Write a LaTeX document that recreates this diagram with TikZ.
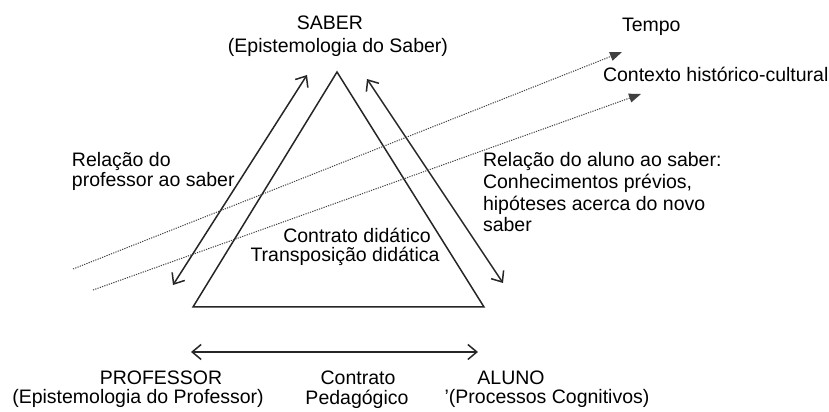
\documentclass[tikz,border=0pt]{standalone}
\usepackage{fontspec}
\setmainfont{Liberation Sans}
\usetikzlibrary{arrows.meta}
\tikzset{
  lbl/.style={inner sep=0pt, outer sep=0pt, font=\fontsize{9.75bp}{10bp}\selectfont, text=black},
  side/.style={line width=0.75bp, draw=black!85},
  rel/.style={side, {Straight Barb[length=4.5bp,width=7.5bp]}-{Straight Barb[length=4.5bp,width=7.5bp]}},
  flow/.style={line width=0.5bp, draw=black!75, dash pattern=on 0.6bp off 0.6bp, -{Triangle[length=6bp,width=4.5bp]}},
}
\begin{document}
\begin{tikzpicture}[x=0.5bp, y=-0.5bp]
\useasboundingbox (0,0) rectangle (829,412);
% triangle corners
\coordinate (top) at (337,72);
\coordinate (bl) at (193,307);
\coordinate (br) at (484,307);
\draw[side, line join=miter] (top) -- (bl) -- (br) -- cycle;
% relation arrows
\coordinate (lpA) at (307,75);
\coordinate (lpB) at (173,285);
\draw[rel] (lpB) -- (lpA);
\coordinate (raA) at (367,79);
\coordinate (raB) at (503,283);
\draw[rel] (raA) -- (raB);
\coordinate (hpA) at (191,352);
\coordinate (hpB) at (478,352);
\draw[rel] (hpA) -- (hpB);
% time lines
\coordinate (t1s) at (73,269);
\coordinate (t1e) at (622,52);
\draw[flow] (t1s) -- (t1e);
\coordinate (t2s) at (93,290);
\coordinate (t2e) at (641,94);
\draw[flow] (t2s) -- (t2e);
% labels
\node[lbl, anchor=base] (saber) at (330,30) {SABER};
\node[lbl, anchor=base] (saberdesc) at (338,53) {(Epistemologia do Saber)};
\node[lbl, anchor=base west] (tempo) at (622,32) {Tempo};
\node[lbl, anchor=base west] (contexto) at (603,82) {Contexto histórico-cultural};
\node[lbl, anchor=base west] (rp1) at (72,167) {Relação do};
\node[lbl, anchor=base west] (rp2) at (72,187) {professor ao saber};
\node[lbl, anchor=base west] (ra1) at (483,167) {Relação do aluno ao saber:};
\node[lbl, anchor=base west] (ra2) at (483,188.5) {Conhecimentos prévios,};
\node[lbl, anchor=base west] (ra3) at (483,210.5) {hipóteses acerca do novo};
\node[lbl, anchor=base west] (ra4) at (483,232) {saber};
\node[lbl, anchor=base] (cd1) at (357,243) {Contrato didático};
\node[lbl, anchor=base] (cd2) at (345,262) {Transposição didática};
\node[lbl, anchor=base] (prof) at (161,385) {PROFESSOR};
\node[lbl, anchor=base] (profdesc) at (138,404) {(Epistemologia do Professor)};
\node[lbl, anchor=base] (cp1) at (358,385) {Contrato};
\node[lbl, anchor=base] (cp2) at (357,405) {Pedagógico};
\node[lbl, anchor=base] (aluno) at (511,385) {ALUNO};
\node[lbl, anchor=base] (alunodesc) at (547,404) {'(Processos Cognitivos)};
\end{tikzpicture}
\end{document}
